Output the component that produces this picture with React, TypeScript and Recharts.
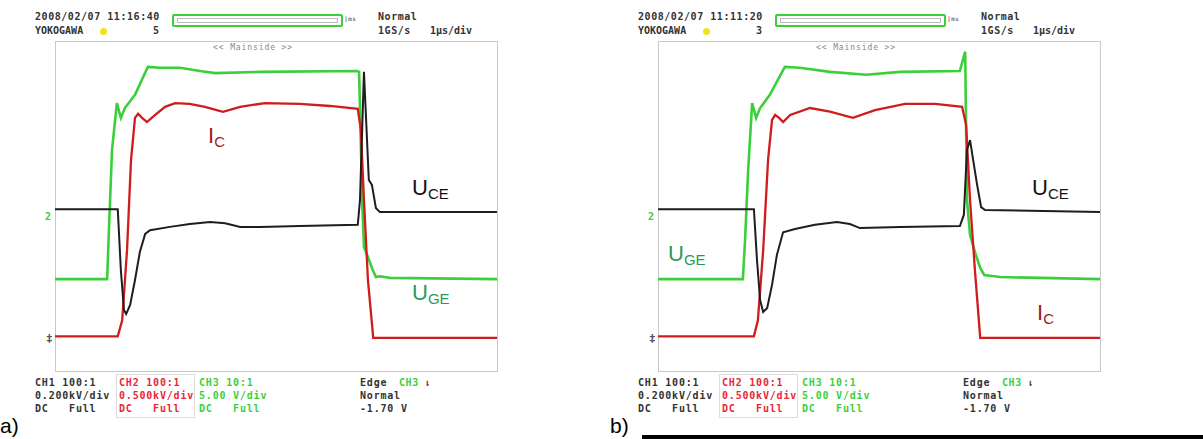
import React from 'react';
import { LineChart, Line, XAxis, YAxis } from 'recharts';

// time in µs (1 µs/div, 10 div), level in screen divisions (-4..4)
type Pt = { t: number; v: number };
const pts = (a: number[][]): Pt[] => a.map(([t, v]) => ({ t, v }));

const uceA = pts([
    [0, -0.09], [1.42, -0.09], [1.49, -1.57], [1.56, -2.54], [1.61, -2.64], [1.7, -2.42], [1.81, -1.81],
    [1.92, -1.13], [2.04, -0.69], [2.15, -0.6], [2.6, -0.52], [3.05, -0.45], [3.51, -0.4], [3.85, -0.43],
    [4.19, -0.52], [4.64, -0.52], [5.54, -0.5], [6.85, -0.47], [6.9, 0.13], [6.99, 3.25], [7.1, 0.62],
    [7.17, 0.5], [7.26, -0.06], [7.35, -0.16], [10, -0.16],
]);
const ugeA = pts([
    [0, -1.79], [1.18, -1.79], [1.22, -0.6], [1.29, 1.35], [1.4, 2.49], [1.49, 2.13], [1.58, 2.37],
    [1.81, 2.69], [2.1, 3.37], [2.38, 3.35], [2.83, 3.35], [3.28, 3.27], [3.62, 3.22], [4.64, 3.25],
    [6.83, 3.27], [6.88, 3.25], [6.95, 0.13], [6.99, -1.01], [7.08, -1.25], [7.17, -1.52], [7.26, -1.74],
    [7.35, -1.72], [7.58, -1.76], [10, -1.79],
]);
const icA = pts([
    [0, -3.18], [1.42, -3.18], [1.52, -2.79], [1.63, -1.08], [1.72, 1.11], [1.81, 2.13], [1.88, 2.23],
    [1.97, 2.13], [2.08, 2.03], [2.26, 2.2], [2.49, 2.4], [2.72, 2.49], [3.05, 2.47], [3.39, 2.4],
    [3.8, 2.28], [4.19, 2.4], [4.75, 2.49], [5.54, 2.47], [6.22, 2.42], [6.85, 2.35], [6.92, 1.84],
    [6.99, 0.13], [7.08, -1.81], [7.2, -3.22], [10, -3.22],
]);

const uceB = pts([
    [0, -0.09], [2.17, -0.09], [2.24, -1.33], [2.31, -2.3], [2.38, -2.59], [2.47, -2.49], [2.58, -1.93],
    [2.69, -1.2], [2.83, -0.65], [3.1, -0.57], [3.55, -0.47], [4.05, -0.4], [4.34, -0.45], [4.57, -0.55],
    [5.48, -0.52], [6.83, -0.5], [6.92, -0.23], [6.99, 1.35], [7.06, 1.59], [7.13, 1.11], [7.22, 0.5],
    [7.31, -0.04], [7.4, -0.11], [10, -0.16],
]);
const ugeB = pts([
    [0, -1.79], [1.92, -1.79], [1.97, -0.84], [2.04, 0.86], [2.13, 2.49], [2.22, 2.13], [2.31, 2.37],
    [2.53, 2.69], [2.87, 3.37], [3.21, 3.35], [3.89, 3.25], [4.71, 3.18], [5.48, 3.25], [6.83, 3.27],
    [6.95, 3.74], [6.99, 0.13], [7.06, -0.72], [7.17, -1.13], [7.29, -1.52], [7.38, -1.69], [7.74, -1.74],
    [10, -1.79],
]);
const icB = pts([
    [0, -3.18], [2.17, -3.18], [2.26, -2.79], [2.38, -1.08], [2.49, 1.11], [2.58, 2.08], [2.65, 2.2],
    [2.74, 2.13], [2.83, 2.03], [2.99, 2.2], [3.44, 2.37], [3.89, 2.28], [4.41, 2.13], [4.91, 2.32],
    [5.59, 2.47], [6.27, 2.47], [6.88, 2.4], [6.97, 1.96], [7.06, 0.13], [7.17, -1.57], [7.29, -3.22],
    [10, -3.22],
]);

const ch1Lines = ['CH1 100:1', '0.200kV/div', 'DC   Full'];
const ch2Lines = ['CH2 100:1', '0.500kV/div', 'DC   Full'];
const ch3Lines = ['CH3 10:1', '5.00 V/div', 'DC   Full'];
const trigLines = ['Normal', '-1.70 V'];

const GREEN = '#3ccf3c';
const RED = '#d01c1c';
const BLACK = '#1e1e1e';
const MONO = "'DejaVu Sans Mono', monospace";
const SANS = "'Liberation Sans', Arial, sans-serif";

const small: React.CSSProperties = {
    position: 'absolute',
    fontFamily: MONO,
    fontSize: 10,
    fontWeight: 'bold',
    lineHeight: '12px',
    color: '#333',
    whiteSpace: 'pre',
    letterSpacing: 0.55,
};

function Label({ x, y, main, sub, color }: { x: number; y: number; main: string; sub: string; color: string }) {
    return (
        <div style={{ position: 'absolute', left: x, top: y, color, fontFamily: SANS, fontSize: 22, lineHeight: '24px', whiteSpace: 'pre' }}>
            {main}
            <span style={{ fontSize: 15, position: 'relative', top: 4 }}>{sub}</span>
        </div>
    );
}

function Block({ x, lines, color }: { x: number; lines: string[]; color: string }) {
    return (
        <>
            {lines.map((s, i) => (
                <div key={i} style={{ ...small, left: x, top: 377 + i * 13, color, letterSpacing: 0.8 }}>{s}</div>
            ))}
        </>
    );
}

function Scope({ left, time, count, uce, uge, ic }: { left: number; time: string; count: string; uce: Pt[]; uge: Pt[]; ic: Pt[] }) {
    return (
        <div style={{ position: 'absolute', left, top: 0, width: 560, height: 439 }}>
            <div style={{ ...small, left: 35, top: 11 }}>{time}</div>
            <div style={{ ...small, left: 35, top: 25, letterSpacing: 0 }}>YOKOGAWA</div>
            <div style={{ position: 'absolute', left: 100, top: 28, width: 7, height: 7, borderRadius: 4, background: '#f5e020' }} />
            <div style={{ ...small, left: 153, top: 25 }}>{count}</div>
            <div style={{ position: 'absolute', left: 172, top: 14, width: 167, height: 9, border: `2px solid ${GREEN}`, borderRadius: 2 }}>
                <div style={{ position: 'absolute', left: 3, right: 3, top: 2, height: 3, border: '1px solid #bbb' }} />
            </div>
            <div style={{ ...small, left: 344, top: 13, fontSize: 6, fontWeight: 'normal' }}>]ms</div>
            <div style={{ ...small, left: 378, top: 11 }}>Normal</div>
            <div style={{ ...small, left: 378, top: 25 }}>1GS/s</div>
            <div style={{ ...small, left: 430, top: 25, letterSpacing: 0 }}>1µs/div</div>
            <div style={{ ...small, left: 213, top: 42, fontSize: 8, fontWeight: 'normal', color: '#888', letterSpacing: 0.9 }}>{'<< Mainside >>'}</div>

            <div style={{ position: 'absolute', left: 55, top: 41, width: 441, height: 329, border: '1px solid #c8c8c8' }} />
            <div style={{ ...small, left: 45, top: 211, color: GREEN }}>2</div>
            <div style={{ ...small, left: 46, top: 333, color: '#555', fontSize: 11 }}>‡</div>

            <div style={{ position: 'absolute', left: 55, top: 41 }}>
                <LineChart width={442} height={329} margin={{ top: 0, right: 0, bottom: 0, left: 0 }}>
                    <XAxis type="number" dataKey="t" domain={[0, 10]} hide />
                    <YAxis type="number" dataKey="v" domain={[-4, 4]} hide />
                    <Line data={uge} dataKey="v" stroke={GREEN} strokeWidth={2.6} dot={false} type="linear" isAnimationActive={false} />
                    <Line data={ic} dataKey="v" stroke={RED} strokeWidth={2.3} dot={false} type="linear" isAnimationActive={false} />
                    <Line data={uce} dataKey="v" stroke={BLACK} strokeWidth={2} dot={false} type="linear" isAnimationActive={false} />
                </LineChart>
            </div>

            <Block x={35} lines={ch1Lines} color="#333" />
            <div style={{ position: 'absolute', left: 116, top: 374, width: 77, height: 42, border: '1px solid #ddd' }} />
            <Block x={119} lines={ch2Lines} color="#e8283a" />
            <Block x={199} lines={ch3Lines} color={GREEN} />
            <div style={{ ...small, left: 360, top: 377, letterSpacing: 0.8 }}>Edge</div>
            <div style={{ ...small, left: 399, top: 377, color: GREEN }}>CH3</div>
            <div style={{ ...small, left: 424, top: 377 }}>⇂</div>
            <div style={{ ...small, left: 360, top: 390, letterSpacing: 0.8 }}>{trigLines[0]}</div>
            <div style={{ ...small, left: 360, top: 403, letterSpacing: 0.8 }}>{trigLines[1]}</div>
        </div>
    );
}

export default function App() {
    return (
        <div style={{ position: 'absolute', left: 0, top: 0, width: 1203, height: 439, background: '#fff', overflow: 'hidden' }}>
            <Scope left={0} time="2008/02/07 11:16:40" count="5" uce={uceA} uge={ugeA} ic={icA} />
            <Scope left={603} time="2008/02/07 11:11:20" count="3" uce={uceB} uge={ugeB} ic={icB} />

            <Label x={208} y={124} main="I" sub="C" color="#9e1a1e" />
            <Label x={412} y={176} main="U" sub="CE" color="#111" />
            <Label x={412} y={281} main="U" sub="GE" color="#2a9a5c" />

            <Label x={1032} y={176} main="U" sub="CE" color="#111" />
            <Label x={668} y={242} main="U" sub="GE" color="#2a9a5c" />
            <Label x={1037} y={301} main="I" sub="C" color="#9e1a1e" />

            <div style={{ position: 'absolute', left: 0, top: 414, fontFamily: SANS, fontSize: 21 }}>a)</div>
            <div style={{ position: 'absolute', left: 610, top: 414, fontFamily: SANS, fontSize: 21 }}>b)</div>
            <div style={{ position: 'absolute', left: 642, top: 435, width: 561, height: 4, background: '#000' }} />
        </div>
    );
}
